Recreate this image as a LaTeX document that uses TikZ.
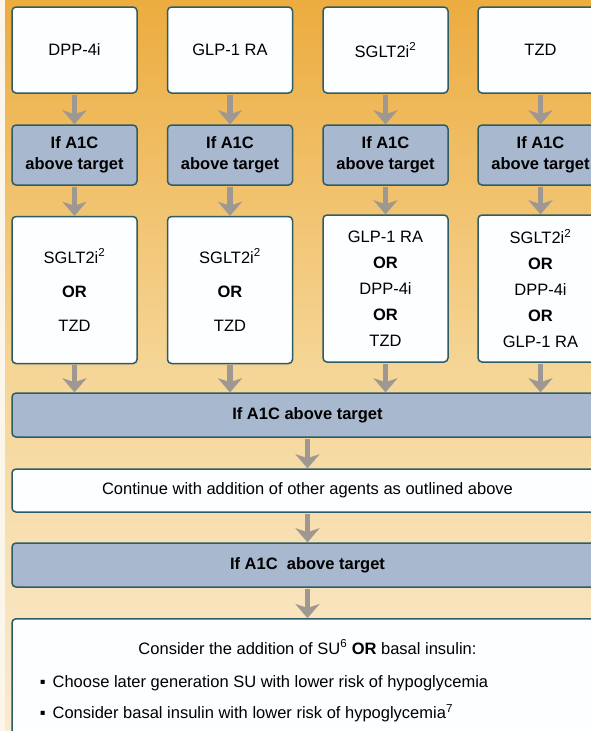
\documentclass[tikz,border=0pt]{standalone}
\usepackage{fontspec}
\setmainfont{Liberation Sans}
\usetikzlibrary{calc,shapes,arrows.meta}

\definecolor{edge}{HTML}{2D5C66}
\definecolor{a1cblue}{HTML}{A8B8CE}
\definecolor{arrowgray}{HTML}{9E9792}
\definecolor{bgtop}{HTML}{ECAC3F}
\definecolor{bgmid}{HTML}{F5D595}
\definecolor{bgbot}{HTML}{F9EBD2}
\definecolor{boxwhite}{HTML}{FCFEFF}

\begin{document}
\begin{tikzpicture}[x=1pt,y=-1pt,
drug/.style={draw=edge, line width=1.5pt, rounded corners=4pt, fill=boxwhite, minimum width=125pt, minimum height=86pt, inner sep=2pt, align=center, font=\fontsize{16.5}{19}\selectfont},
cond/.style={drug, fill=a1cblue, minimum height=60pt, font=\fontsize{16.5}{21}\selectfont\bfseries},
combo/.style={drug, minimum height=147pt, font=\fontsize{16.5}{26}\selectfont},
bar/.style={cond, minimum width=591pt, minimum height=44pt},
wide/.style={drug, minimum width=591pt, minimum height=43pt},
arr/.style={draw=arrowgray, line width=5.5pt, shorten <=0.75pt, -{Stealth[width=24pt,length=14pt,inset=4pt,line width=0.1pt]}}]
	\useasboundingbox (0,0) rectangle (591,731);
	\clip (0,0) rectangle (591,731);
	\shade[top color=bgtop, bottom color=bgmid] (0,0) rectangle (591,365);
	\shade[top color=bgmid, bottom color=bgbot] (0,365) rectangle (591,731);
	\fill[bgbot!50!white] (0,0) rectangle (5,731);

	% first agent
	\node[drug] at (74.5,50) (dpp) {DPP-4i};
	\node[drug] at (230,50) (glp) {GLP-1 RA};
	\node[drug] at (385.5,50) (sglt) {SGLT2i\textsuperscript{2}};
	\node[drug] at (540.5,50) (tzd) {TZD};

	\node[cond] at (74.5,155) (c1) {If A1C\\above target};
	\node[cond] at (230,155) (c2) {If A1C\\above target};
	\node[cond] at (385.5,155) (c3) {If A1C\\above target};
	\node[cond] at (540.5,155) (c4) {If A1C\\above target};

	% second agent
	\node[combo, font=\fontsize{16.5}{34}\selectfont] at (74.5,290) (r1) {SGLT2i\textsuperscript{2}\\\textbf{OR}\\TZD};
	\node[combo, font=\fontsize{16.5}{34}\selectfont] at (230,290) (r2) {SGLT2i\textsuperscript{2}\\\textbf{OR}\\TZD};
	\node[combo] at (385.5,288.5) (r3) {GLP-1 RA\\\textbf{OR}\\DPP-4i\\\textbf{OR}\\TZD};
	\node[combo] at (540.5,288.5) (r4) {SGLT2i\textsuperscript{2}\\\textbf{OR}\\DPP-4i\\\textbf{OR}\\GLP-1 RA};

	\node[bar] at (307.5,415) (b1) {If A1C above target};
	\node[wide] at (307.5,490.5) (cont) {Continue with addition of other agents as outlined above};
	\node[bar] at (307.5,565) (b2) {If A1C\ \ above target};

	\node[drug, minimum width=591pt, minimum height=160pt, anchor=north] at (307.5,618) (last) {};
	\node[font=\fontsize{16.5}{19}\selectfont] at ([yshift=-29pt]last.north) (su) {Consider the addition of SU\textsuperscript{6} \textbf{OR} basal insulin:};
	\node[font=\fontsize{16.5}{19}\selectfont, anchor=west] at ($(last.north west)+(25,65)$) (bl1) {▪\hspace{7pt}Choose later generation SU with lower risk of hypoglycemia};
	\node[font=\fontsize{16.5}{19}\selectfont, anchor=west] at ($(last.north west)+(25,95)$) (bl2) {▪\hspace{7pt}Consider basal insulin with lower risk of hypoglycemia\textsuperscript{7}};

	\draw[arr] (dpp.south) -- (c1.north);
	\draw[arr] (glp.south) -- (c2.north);
	\draw[arr] (sglt.south) -- (c3.north);
	\draw[arr] (tzd.south) -- (c4.north);
	\draw[arr] (c1.south) -- (r1.north);
	\draw[arr] (c2.south) -- (r2.north);
	\draw[arr] (c3.south) -- (r3.north);
	\draw[arr] (c4.south) -- (r4.north);
	\draw[arr] (r1.south) -- (r1.south |- b1.north);
	\draw[arr] (r2.south) -- (r2.south |- b1.north);
	\draw[arr] (r3.south) -- (r3.south |- b1.north);
	\draw[arr] (r4.south) -- (r4.south |- b1.north);
	\draw[arr] (b1.south) -- (cont.north);
	\draw[arr] (cont.south) -- (b2.north);
	\draw[arr] (b2.south) -- (last.north);
\end{tikzpicture}
\end{document}
